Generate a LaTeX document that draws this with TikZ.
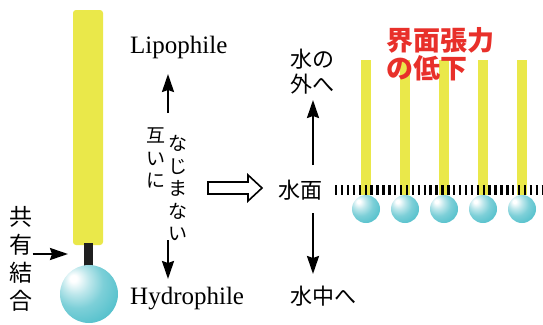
\documentclass[tikz,border=0pt]{standalone}
\usepackage{fontspec}
\usetikzlibrary{arrows.meta}
\setmainfont{Liberation Serif}
\newfontfamily\jp{Noto Sans CJK JP}
\definecolor{rodyellow}{RGB}{234,232,74}
\definecolor{beadcyan}{RGB}{88,194,205}
\definecolor{tensionred}{RGB}{232,48,42}
\pgfdeclareradialshading{bead}{\pgfpoint{-14bp}{14bp}}{color(0bp)=(white); color(3bp)=(white); color(12bp)=(beadcyan!40!white); color(22bp)=(beadcyan!78!white); color(34bp)=(beadcyan); color(72bp)=(beadcyan!88!black)}

\begin{document}
\begin{tikzpicture}[x=1pt,y=-1pt,
    arr/.style={-{Stealth[length=18pt,width=12pt,inset=2pt]}, line width=2.2pt},
    lbl/.style={font=\fontsize{25}{28}\selectfont, inner sep=0pt},
    jlbl/.style={font=\jp\fontsize{22}{25}\selectfont, inner sep=0pt, align=left}]
    \useasboundingbox (0,0) rectangle (543,324);

    % one molecule
    \fill[rodyellow, rounded corners=3pt] (73,10) rectangle (103,245);
    \fill[black!88] (84,243) rectangle (93,266);
    \shade[shading=bead] (89,294) circle[radius=29pt];

    \node[jlbl, align=center, font=\jp\fontsize{23}{28}\selectfont] (bond) at (21,259) {共\\有\\結\\合};
    \coordinate (bondTip) at (68,254);
    \draw[arr] (bond.east |- bondTip) -- (bondTip);

    \node[lbl, anchor=base west] (lipo) at (130,53) {Lipophile};
    \node[lbl, anchor=base west] (hydro) at (130,304) {Hydrophile};
    \node[jlbl, align=center, font=\jp\fontsize{19}{22.5}\selectfont] (colA) at (156,158) {互\\い\\に};
    \node[jlbl, align=center, font=\jp\fontsize{19}{22.5}\selectfont] (colB) at (178,188) {な\\じ\\ま\\な\\い};
    \coordinate (lipoTail) at (168,113);
    \coordinate (lipoHead) at (168,74);
    \coordinate (hydroTail) at (168,240);
    \coordinate (hydroHead) at (168,279);
    \draw[arr] (lipoTail) -- (lipoHead);
    \draw[arr] (hydroTail) -- (hydroHead);

    % open arrow
    \draw[line width=1.6pt, fill=white] (208,182) -- (248,182) -- (248,175) -- (262,188)
        -- (248,201) -- (248,194) -- (208,194) -- cycle;

    % monolayer at the surface
    \node[jlbl, anchor=west] (outside) at (290,72) {水の\\外へ};
    \node[jlbl, anchor=west] (surface) at (278,190) {水面};
    \node[jlbl, anchor=west] (inside) at (290,296) {水中へ};
    \coordinate (outTail) at (313,165);
    \coordinate (outHead) at (313,100);
    \coordinate (inTail) at (313,213);
    \coordinate (inHead) at (313,274);
    \draw[arr] (outTail) -- (outHead);
    \draw[arr] (inTail) -- (inHead);

    \foreach \x in {366,405,444,483,522}
        \fill[rodyellow] (\x-5,60) rectangle (\x+5,195);
    \draw[line width=10pt, dash pattern=on 2.4pt off 3.5pt] (335,190) -- (543,190);
    \foreach \x in {366,405,444,483,522}
        \shade[shading=bead] (\x,209) circle[radius=14pt];

    \node[font=\jp\bfseries\fontsize{27}{28}\selectfont, text=tensionred, align=left,
        anchor=west, inner sep=0pt] (tension) at (386,54) {界面張力\\の低下};
\end{tikzpicture}
\end{document}
